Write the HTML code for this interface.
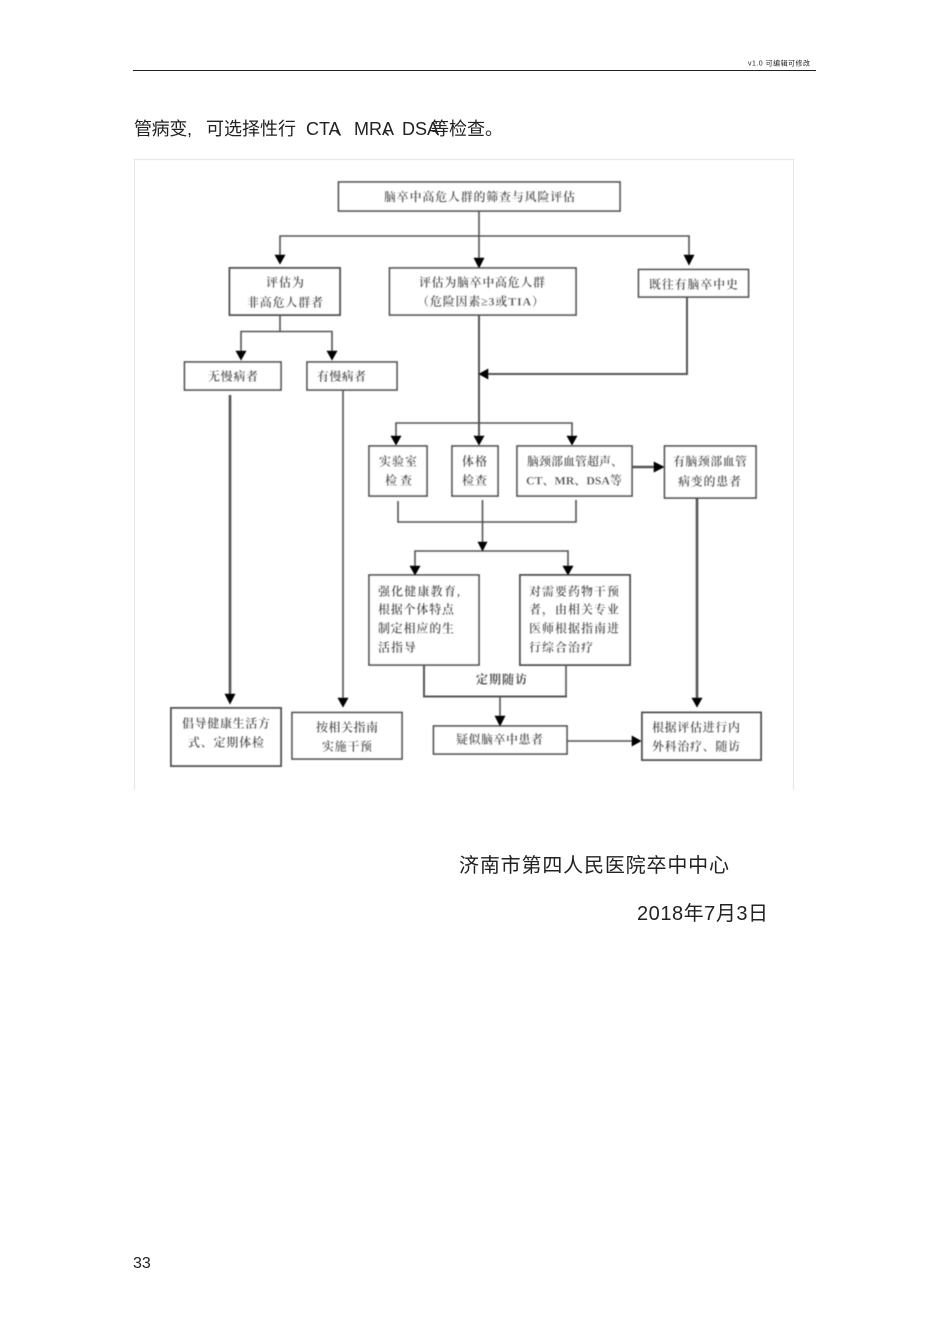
<!DOCTYPE html>
<html lang="zh"><head><meta charset="utf-8"><title>脑卒中高危人群筛查流程</title>
<style>
html,body{margin:0;padding:0;background:#fff;width:950px;height:1343px;overflow:hidden}
svg{display:block}
.d text{font-family:"Liberation Serif","Noto Serif CJK SC",serif;font-size:12px;fill:#505050;font-weight:700}
.b rect{fill:#fff;stroke:#555;stroke-width:1.7}
.l path{fill:none;stroke:#555;stroke-width:1.6}
.h path{fill:#000;stroke:#000;stroke-width:.6}
.t{font-family:"Liberation Sans","Noto Sans CJK SC",sans-serif;fill:#222}
</style></head><body>
<svg width="950" height="1343" viewBox="0 0 950 1343" xmlns="http://www.w3.org/2000/svg">
<defs>
<filter id="bl" filterUnits="userSpaceOnUse" x="130" y="150" width="680" height="650"><feGaussianBlur stdDeviation="0.65"/></filter>
<filter id="bt" filterUnits="userSpaceOnUse" x="120" y="50" width="710" height="1240"><feGaussianBlur stdDeviation="0.3"/></filter>
</defs>
<rect width="950" height="1343" fill="#fff"/>

<g filter="url(#bt)">
<text class="t" x="748" y="65.5" font-size="7" textLength="62" lengthAdjust="spacing">v1.0  可编辑可修改</text>
<text class="t" x="134" y="135" font-size="18" textLength="58">管病变,</text>
<text class="t" x="206" y="135" font-size="18" textLength="90">可选择性行</text>
<text class="t" x="306" y="135" font-size="18">CTA</text>
<text class="t" x="335" y="135" font-size="18">、</text>
<text class="t" x="354" y="135" font-size="18">MRA</text>
<text class="t" x="383" y="135" font-size="18">、</text>
<text class="t" x="402" y="135" font-size="18">DSA</text>
<text class="t" x="431" y="135" font-size="18" textLength="72">等检查。</text>
<text class="t" x="459" y="872" font-size="20" textLength="270">济南市第四人民医院卒中中心</text>
<text class="t" x="637" y="920" font-size="20" textLength="131">2018年7月3日</text>
<text class="t" x="133" y="1268" font-size="16">33</text>
</g>
<rect x="133" y="70" width="683" height="1" fill="#222"/>

<path d="M134.5 790V159.5H793.5V790" fill="none" stroke="#e8e8e8" stroke-width="1.2"/>

<g class="d" filter="url(#bl)">
<g class="b">
<rect x="338.5" y="182" width="281.5" height="29"/>
<rect x="229.5" y="268" width="110.5" height="47" style="stroke-width:2"/>
<rect x="389.5" y="268" width="186.5" height="47"/>
<rect x="638.5" y="269.5" width="110" height="27.5"/>
<rect x="184.5" y="362" width="96.5" height="28"/>
<rect x="307" y="362" width="90" height="28"/>
<rect x="369" y="446" width="58" height="50"/>
<rect x="452" y="446" width="46" height="50"/>
<rect x="517" y="446" width="115" height="50"/>
<rect x="664.5" y="446" width="91.5" height="52"/>
<rect x="369" y="575" width="110" height="90"/>
<rect x="520" y="575" width="110" height="90" style="stroke-width:2"/>
<rect x="171" y="708" width="110" height="58" style="stroke-width:2"/>
<rect x="292" y="712.5" width="110" height="46.5"/>
<rect x="433.5" y="726" width="133.5" height="28"/>
<rect x="642" y="712.5" width="119" height="47.5" style="stroke-width:2"/>
</g>
<g class="l">
<path d="M479 211V258"/>
<path d="M280 255V236H689V255"/>
<path d="M280 315V331"/>
<path d="M241 352V331.5H332V352"/>
<path d="M479 315V436" style="stroke-width:2"/>
<path d="M687 297V374H488" style="stroke-width:2"/>
<path d="M396 436V423H572V436"/>
<path d="M632 467H654" style="stroke-width:2.4"/>
<path d="M398 501V522H576V500"/>
<path d="M482.5 500V542"/>
<path d="M415 567V551H568V567"/>
<path d="M424 665V696.5H567" style="stroke-width:2"/>
<path d="M566 665V697"/>
<path d="M500 696V716"/>
<path d="M567 741H632"/>
<path d="M230 395V695" style="stroke-width:2.6"/>
<path d="M343 390V698"/>
<path d="M697 498V698" style="stroke-width:2.6"/>
</g>
<g class="h">
<path d="M275 255H285L280 264Z"/>
<path d="M684 255H694L689 265Z"/>
<path d="M474 258H484L479 268Z"/>
<path d="M236 351H246L241 360Z"/>
<path d="M327 351H337L332 360Z"/>
<path d="M488 369V379L479 374Z"/>
<path d="M391 436H401L396 445Z"/>
<path d="M474 436H484L479 445Z"/>
<path d="M567 436H577L572 445Z"/>
<path d="M654 462V472L664 467Z"/>
<path d="M478 542H487L482.5 551Z"/>
<path d="M410 566H420L415 575Z"/>
<path d="M563 566H573L568 575Z"/>
<path d="M495 716H505L500 726Z"/>
<path d="M632 736V746L641 741Z"/>
<path d="M225 694H235L230 704Z"/>
<path d="M338 698H348L343 707Z"/>
<path d="M692 698H702L697 707Z"/>
</g>
<text x="384" y="201" textLength="191">脑卒中高危人群的筛查与风险评估</text>
<text x="266" y="286.5" textLength="38">评估为</text>
<text x="247" y="306.5" textLength="76">非高危人群者</text>
<text x="419" y="286.5" textLength="126">评估为脑卒中高危人群</text>
<text x="417" y="305.5" textLength="127">（危险因素≥3或TIA）</text>
<text x="649" y="288.5" textLength="89">既往有脑卒中史</text>
<text x="208" y="380.5" textLength="50">无慢病者</text>
<text x="317" y="380.5" textLength="49">有慢病者</text>
<text x="379" y="465.5" textLength="38">实验室</text>
<text x="385" y="484.5" textLength="27">检查</text>
<text x="462" y="465.5" textLength="25">体格</text>
<text x="462" y="484.5" textLength="25">检查</text>
<text x="527" y="465.5" textLength="96">脑颈部血管超声、</text>
<text x="526" y="484.5" textLength="96">CT、MR、DSA等</text>
<text x="673" y="465.5" textLength="74">有脑颈部血管</text>
<text x="678" y="485.5" textLength="63">病变的患者</text>
<text x="378" y="595.5" textLength="82">强化健康教育,</text>
<text x="378" y="613.5" textLength="76">根据个体特点</text>
<text x="378" y="632.5" textLength="76">制定相应的生</text>
<text x="378" y="651.5" textLength="38">活指导</text>
<text x="529" y="595.5" textLength="90">对需要药物干预</text>
<text x="529" y="613.5" textLength="90">者，由相关专业</text>
<text x="529" y="632.5" textLength="90">医师根据指南进</text>
<text x="529" y="651.5" textLength="64">行综合治疗</text>
<text x="476" y="683.5" textLength="51">定期随访</text>
<text x="182" y="727.5" textLength="88">倡导健康生活方</text>
<text x="188" y="746.5" textLength="76">式、定期体检</text>
<text x="316" y="731.5" textLength="62">按相关指南</text>
<text x="322" y="750.5" textLength="50">实施干预</text>
<text x="456" y="743.5" textLength="87">疑似脑卒中患者</text>
<text x="652" y="731.5" textLength="88">根据评估进行内</text>
<text x="652" y="750.5" textLength="88">外科治疗、随访</text>
</g>
</svg>
</body></html>
